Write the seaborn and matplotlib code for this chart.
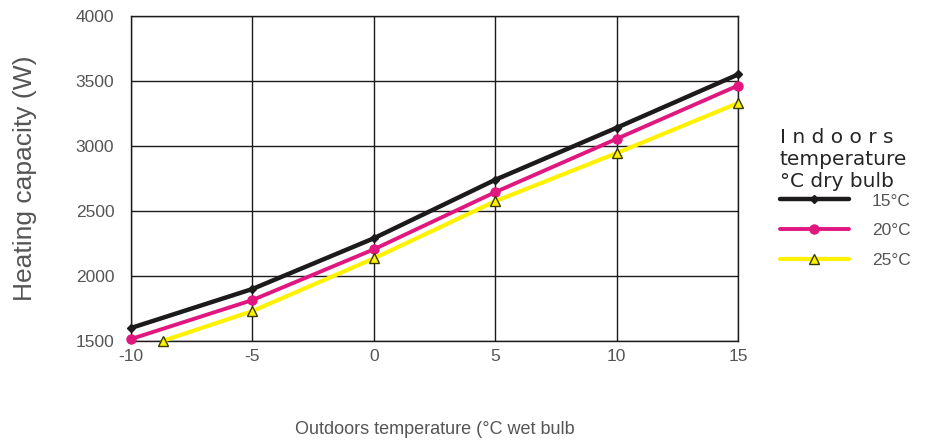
import matplotlib
matplotlib.use("Agg")
import matplotlib.pyplot as plt
import seaborn as sns
import pandas as pd

# Data
x_15 = [-10, -5, 0, 5, 10, 15]
y_15 = [1600, 1900, 2290, 2740, 3140, 3550]
x_20 = [-10, -5, 0, 5, 10, 15]
y_20 = [1515, 1815, 2205, 2645, 3055, 3465]
x_25 = [-8.7, -5, 0, 5, 10, 15]
y_25 = [1500, 1730, 2135, 2575, 2945, 3330]
series_labels = ["15°C", "20°C", "25°C"]
x_ticks = [-10, -5, 0, 5, 10, 15]
y_ticks = [1500, 2000, 2500, 3000, 3500, 4000]

colors = ["#1c1a1a", "#e0177f", "#fff200"]
markers = ["D", "o", "^"]
msizes = [4.5, 6.5, 7]
lws = [3.2, 2.8, 3.0]
edgecols = ["#1c1a1a", "#e0177f", "#3a3a00"]

sns.set_theme(style="white")
plt.rcParams['font.family'] = ['Liberation Sans Narrow', 'Liberation Sans', 'DejaVu Sans']

fig = plt.figure(figsize=(9.3, 4.4), dpi=100)
ax = fig.add_axes([131/930, 1 - 341/440, (738-131)/930, (341-16)/440])

xs = [x_15, x_20, x_25]
ys = [y_15, y_20, y_25]
for i in range(3):
    df = pd.DataFrame({"x": xs[i], "y": ys[i]})
    sns.lineplot(data=df, x="x", y="y", ax=ax, color=colors[i], lw=lws[i],
                 marker=markers[i], markersize=msizes[i],
                 markeredgecolor=edgecols[i], markeredgewidth=1.0,
                 label=series_labels[i], clip_on=False, zorder=3)

handles, labels = ax.get_legend_handles_labels()
if ax.get_legend() is not None:
    ax.get_legend().remove()

ax.set_xlim(-10, 15)
ax.set_ylim(1500, 4000)
ax.set_xticks(x_ticks)
ax.set_yticks(y_ticks)
ax.set_xticklabels([str(t) for t in x_ticks])
ax.set_yticklabels([str(t) for t in y_ticks])
ax.grid(True, color="#1c1a1a", lw=1.0)
for s in ax.spines.values():
    s.set_color("#1c1a1a")
    s.set_linewidth(1.0)
ax.tick_params(axis="both", length=0, labelsize=12.5, colors="#555555")
ax.tick_params(axis="x", pad=6)
ax.tick_params(axis="y", pad=12)
ax.set_xlabel("Outdoors temperature (°C wet bulb", fontsize=13, color="#555555", labelpad=41)
ax.set_ylabel("Heating capacity (W)", fontsize=19, color="#555555", labelpad=28)

leg = fig.legend(handles, labels, loc="upper left", bbox_to_anchor=(764/930, 1 - 112/440),
                 frameon=False, fontsize=12.5, handlelength=4.0, handletextpad=1.3,
                 labelspacing=0.85,
                 title="I n d o o r s\ntemperature\n°C dry bulb",
                 title_fontproperties={"family": "DejaVu Sans", "size": 14.5})
leg._legend_box.align = "left"
leg._legend_box.sep = 2
for t in leg.get_texts():
    t.set_color("#555555")

fig.savefig("out.png", dpi=100)
